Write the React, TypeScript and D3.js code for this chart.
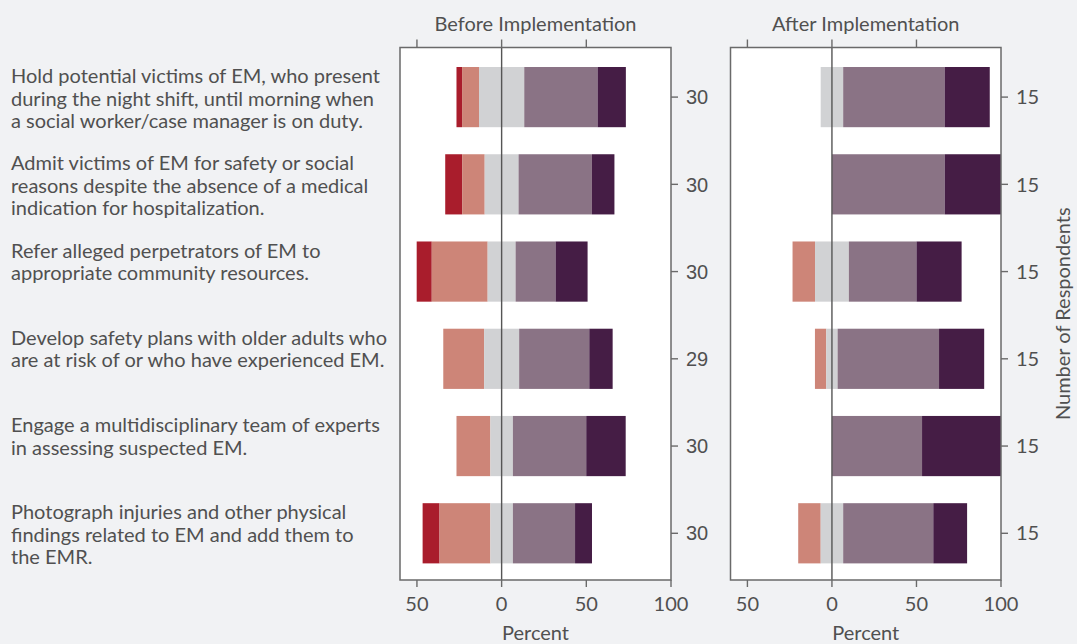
import React from "react";
import * as d3 from "d3";

const categories: string[][] = [
  ["Hold potential victims of EM, who present", "during the night shift, until morning when", "a social worker/case manager is on duty."],
  ["Admit victims of EM for safety or social", "reasons despite the absence of a medical", "indication for hospitalization."],
  ["Refer alleged perpetrators of EM to", "appropriate community resources."],
  ["Develop safety plans with older adults who", "are at risk of or who have experienced EM."],
  ["Engage a multidisciplinary team of experts", "in assessing suspected EM."],
  ["Photograph injuries and other physical", "findings related to EM and add them to", "the EMR."],
];

const responseLevels = ["Strongly disagree", "Disagree", "Neutral", "Agree", "Strongly agree"];
const levelColors = ["#A91D2C", "#CD8578", "#D1D2D4", "#8A7385", "#451D45"];

// Before implementation (percent)
const beforeSD = [3.3, 10, 8.9, 0, 0, 10];
const beforeD = [10, 13.3, 33.0, 24.1, 20, 30];
const beforeN = [26.7, 20, 16.5, 20.7, 13.3, 13.3];
const beforeA = [43.3, 43.3, 23.6, 41.4, 43.3, 36.7];
const beforeSA = [16.7, 13.3, 18.9, 13.8, 23.3, 10];
const beforeN_resp = [30, 30, 30, 29, 30, 30];

// After implementation (percent)
const afterSD = [0, 0, 0, 0, 0, 0];
const afterD = [0, 0, 13.3, 6.7, 0, 13.3];
const afterN = [13.3, 0, 20, 6.7, 0, 13.3];
const afterA = [60, 66.7, 40, 60, 53.3, 53.3];
const afterSA = [26.7, 33.3, 26.7, 26.7, 46.7, 20];
const afterN_resp = [15, 15, 15, 15, 15, 15];

const xTicks = [-50, 0, 50, 100];
const topTicks = [-50, 0, 50];

const W = 1077, H = 644;
const TOP = 47.5, BOTTOM = 580;
const LATO = "Lato, 'Open Sans', sans-serif";
const FS = 20;
const TEXT = "#505050";
const AXIS = "#6a6a6a";

type Seg = { x0: number; x1: number; color: string };

function buildSegs(sd: number[], d: number[], n: number[], a: number[], sa: number[]) {
  return sd.map((_, i) => {
    const vals = [sd[i], d[i], n[i], a[i], sa[i]];
    let cur = -(sd[i] + d[i] + n[i] / 2);
    const segs: Seg[] = [];
    vals.forEach((v, k) => {
      if (v > 0) segs.push({ x0: cur, x1: cur + v, color: levelColors[k] });
      cur += v;
    });
    return segs;
  });
}

const y = d3.scaleBand<number>()
  .domain(d3.range(categories.length))
  .range([TOP, BOTTOM])
  .paddingInner(0.31)
  .paddingOuter(0.207)
  .align(0.54);

function Panel({ x0, x1, title, segs, counts, countFont }: { x0: number; x1: number; title: string; segs: Seg[][]; counts: number[]; countFont: string }) {
  const x = d3.scaleLinear().domain([-60, 100]).range([x0, x1]);
  const cx = (x0 + x1) / 2;
  return (
    <g>
      <rect x={x0} y={TOP} width={x1 - x0} height={BOTTOM - TOP} fill="#ffffff" />
      {segs.map((row, i) =>
        row.map((s, k) => (
          <rect key={`${i}-${k}`} x={x(s.x0)} y={y(i)!} width={x(s.x1) - x(s.x0)} height={y.bandwidth()} fill={s.color} />
        ))
      )}
      <line x1={x(0)} x2={x(0)} y1={TOP} y2={BOTTOM} stroke="#555" strokeWidth={1.4} />
      <rect x={x0} y={TOP} width={x1 - x0} height={BOTTOM - TOP} fill="none" stroke={AXIS} strokeWidth={1.5} />
      {xTicks.map((t) => (
        <g key={t}>
          <line x1={x(t)} x2={x(t)} y1={BOTTOM} y2={BOTTOM + 7} stroke={AXIS} strokeWidth={1.4} />
          <text x={x(t)} y={BOTTOM + 31} textAnchor="middle" fontFamily={LATO} fontSize={FS} fill={TEXT}>{Math.abs(t)}</text>
        </g>
      ))}
      {topTicks.map((t) => (
        <line key={t} x1={x(t)} x2={x(t)} y1={TOP - 8} y2={TOP} stroke={AXIS} strokeWidth={1.4} />
      ))}
      <text x={cx} y={31} textAnchor="middle" fontFamily={LATO} fontSize={FS} fill={TEXT}>{title}</text>
      <text x={cx} y={640} textAnchor="middle" fontFamily={LATO} fontSize={FS} fill={TEXT}>Percent</text>
      {counts.map((c, i) => {
        const yc = y(i)! + y.bandwidth() / 2;
        return (
          <g key={i}>
            <line x1={x1} x2={x1 + 7} y1={yc} y2={yc} stroke={AXIS} strokeWidth={1.4} />
            <text x={x1 + 15} y={yc} dy="0.36em" fontFamily={countFont} fontSize={FS} fill={TEXT}>{c}</text>
          </g>
        );
      })}
    </g>
  );
}

export default function App() {
  const before = buildSegs(beforeSD, beforeD, beforeN, beforeA, beforeSA);
  const after = buildSegs(afterSD, afterD, afterN, afterA, afterSA);
  return (
    <svg width={W} height={H} style={{ position: "absolute", left: 0, top: 0 }} data-levels={responseLevels.join(",")}>
      <rect x={0} y={0} width={W} height={H} fill="#F1F2F4" />
      {categories.map((lines, i) => {
        const yc = y(i)! + y.bandwidth() / 2;
        return (
          <text key={i} fontFamily={LATO} fontSize={FS} fill={TEXT}>
            {lines.map((l, j) => (
              <tspan key={j} x={11} y={yc - 14 + j * 22.5}>{l}</tspan>
            ))}
          </text>
        );
      })}
      <Panel x0={400} x1={671} title="Before Implementation" segs={before} counts={beforeN_resp} countFont="'Liberation Sans', Arial, sans-serif" />
      <Panel x0={730.5} x1={1001} title="After Implementation" segs={after} counts={afterN_resp} countFont={LATO} />
      <text transform={`translate(1070, ${(TOP + BOTTOM) / 2}) rotate(-90)`} textAnchor="middle" fontFamily={LATO} fontSize={FS} fill={TEXT}>Number of Respondents</text>
    </svg>
  );
}
